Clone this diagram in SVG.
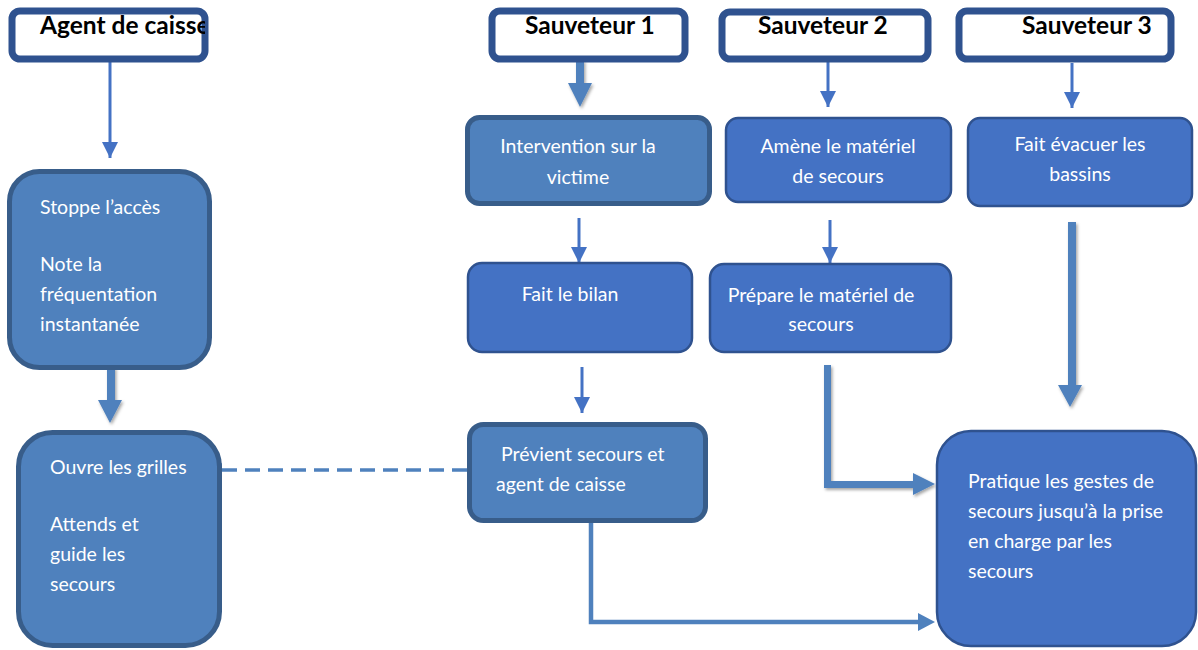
<svg xmlns="http://www.w3.org/2000/svg" width="1198" height="650" viewBox="0 0 1198 650">
<style>
.hdr{fill:#fff;stroke:#2F528F;stroke-width:7}
.nA{fill:#4F81BD;stroke:#385D8A;stroke-width:5}
.nB{fill:#4472C4;stroke:#2F528F;stroke-width:2.5}
.ht{font-family:Lato,"Liberation Sans",sans-serif;font-weight:bold;font-size:24.5px;fill:#000}
.bt{font-family:Lato,"Liberation Sans",sans-serif;font-size:19.5px;fill:#fff}
.c{text-anchor:middle}
.thin{stroke:#4472C4;stroke-width:3;fill:none}
</style>
<defs>
<marker id="ah" viewBox="0 0 10 10" refX="10" refY="5" markerWidth="5.5" markerHeight="5.5" markerUnits="strokeWidth" orient="auto">
<path d="M0,0 L10,5 L0,10 z" fill="#4472C4"/>
</marker>
<filter id="sh" x="-20%" y="-20%" width="140%" height="140%">
<feDropShadow dx="1.5" dy="2" stdDeviation="1.5" flood-color="#000" flood-opacity="0.35"/>
</filter>
<clipPath id="clipAgent"><rect x="12" y="11" width="193" height="48"/></clipPath>
</defs>

<g id="connectors">
<line class="thin" x1="110" y1="62" x2="110" y2="158" marker-end="url(#ah)"/>
<line class="thin" x1="828" y1="62" x2="828" y2="107" marker-end="url(#ah)"/>
<line class="thin" x1="1072" y1="63" x2="1072" y2="108" marker-end="url(#ah)"/>
<line class="thin" x1="579" y1="218" x2="579" y2="263" marker-end="url(#ah)"/>
<line class="thin" x1="830" y1="220" x2="830" y2="263" marker-end="url(#ah)"/>
<line class="thin" x1="582" y1="367" x2="582" y2="413" marker-end="url(#ah)"/>
<g filter="url(#sh)">
<path fill="#4F81BD" d="M576,60 L584,60 L584,83 L592,83 L580,107 L568,83 L576,83 Z"/>
<path fill="#4F81BD" d="M107,367 L115,367 L115,400 L122,400 L110,423 L98,400 L107,400 Z"/>
<path fill="#4F81BD" d="M1068,222 L1076,222 L1076,385 L1082,385 L1070,407 L1058,385 L1068,385 Z"/>
<path fill="#4F81BD" d="M824,365 L831,365 L831,481 L913,481 L913,473 L935,484 L913,495 L913,488 L824,488 Z"/>
</g>
<path d="M591,523 L591,622 L920,622" stroke="#4F81BD" stroke-width="4.5" fill="none"/>
<path d="M918,613 L935,622 L918,631 Z" fill="#4F81BD"/>
<line x1="467" y1="470" x2="222" y2="470" stroke="#4F81BD" stroke-width="3.5" stroke-dasharray="15,8"/>
<path d="M222,463 L207,470 L222,477 Z" fill="#4F81BD"/>
</g>

<g id="n-agent">
<rect class="hdr" x="12" y="11" width="193" height="48" rx="8"/>
<text class="ht" x="40" y="34" clip-path="url(#clipAgent)">Agent de caisse</text>
</g>
<g id="n-s1">
<rect class="hdr" x="492" y="11" width="193" height="48" rx="8"/>
<text class="ht" x="525" y="34">Sauveteur 1</text>
</g>
<g id="n-s2">
<rect class="hdr" x="722" y="12" width="206" height="47" rx="8"/>
<text class="ht" x="758" y="34">Sauveteur 2</text>
</g>
<g id="n-s3">
<rect class="hdr" x="959" y="11" width="212" height="48" rx="8"/>
<text class="ht" x="1022" y="34">Sauveteur 3</text>
</g>

<g id="n-stoppe">
<rect class="nA" x="9.5" y="171.5" width="200" height="196" rx="30"/>
<text class="bt" x="40" y="214">Stoppe l’accès</text>
<text class="bt" x="40" y="271">Note la</text>
<text class="bt" x="40" y="301">fréquentation</text>
<text class="bt" x="40" y="331">instantanée</text>
</g>
<g id="n-ouvre">
<rect class="nA" x="18.5" y="432.5" width="201" height="213" rx="34"/>
<text class="bt" x="50" y="474">Ouvre les grilles</text>
<text class="bt" x="50" y="531">Attends et</text>
<text class="bt" x="50" y="561">guide les</text>
<text class="bt" x="50" y="591">secours</text>
</g>

<g id="n-intervention">
<rect class="nA" x="467.5" y="117.5" width="242" height="86" rx="12"/>
<text class="bt c" x="578" y="153">Intervention sur la</text>
<text class="bt c" x="578" y="184">victime</text>
</g>
<g id="n-amene">
<rect class="nB" x="726" y="118" width="225" height="84" rx="12"/>
<text class="bt c" x="838" y="153">Amène le matériel</text>
<text class="bt c" x="838" y="183">de secours</text>
</g>
<g id="n-evacuer">
<rect class="nB" x="968" y="118" width="224" height="88" rx="12"/>
<text class="bt c" x="1080" y="151">Fait évacuer les</text>
<text class="bt c" x="1080" y="181">bassins</text>
</g>

<g id="n-bilan">
<rect class="nB" x="468" y="263" width="224" height="89" rx="14"/>
<text class="bt c" x="570" y="301">Fait le bilan</text>
</g>
<g id="n-prepare">
<rect class="nB" x="710" y="264" width="241" height="88" rx="14"/>
<text class="bt c" x="821" y="302">Prépare le matériel de</text>
<text class="bt c" x="821" y="331">secours</text>
</g>

<g id="n-previent">
<rect class="nA" x="469.5" y="424.5" width="236" height="96" rx="14"/>
<text class="bt" x="501" y="461">Prévient secours et</text>
<text class="bt" x="496" y="491">agent de caisse</text>
</g>

<g id="n-pratique">
<rect class="nB" x="937" y="431" width="259" height="215" rx="34"/>
<text class="bt" x="968" y="488">Pratique les gestes de</text>
<text class="bt" x="968" y="518">secours jusqu’à la prise</text>
<text class="bt" x="968" y="548">en charge par les</text>
<text class="bt" x="968" y="578">secours</text>
</g>
</svg>
